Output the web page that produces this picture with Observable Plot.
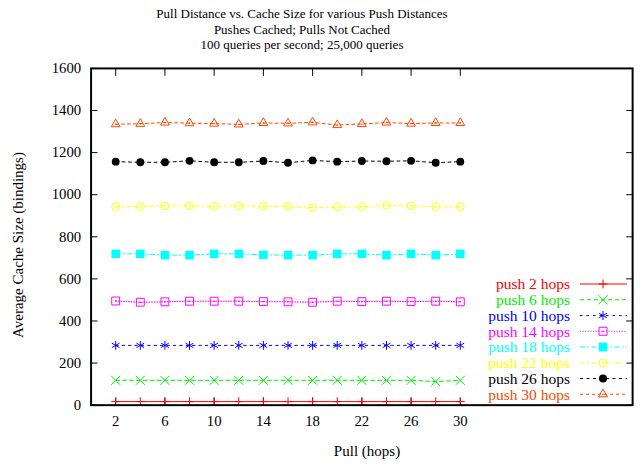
<!DOCTYPE html>
<html><head><meta charset="utf-8">
<script src="https://cdn.jsdelivr.net/npm/d3@7"></script>
<script src="https://cdn.jsdelivr.net/npm/@observablehq/plot@0.6"></script>
<style>
html,body{margin:0;padding:0;background:#fff;overflow:hidden;width:640px;height:468px}
#wrap{position:relative;width:640px;height:468px;overflow:hidden;font-family:"Liberation Serif","Times New Roman",serif;color:#000}
#title{position:absolute;left:0;top:6px;width:604px;text-align:center;font-size:13px;line-height:15.5px}
#chart{position:absolute;left:0;top:0}
#ylabel{position:absolute;left:18px;top:245px;transform:translate(-50%,-50%) rotate(-90deg);white-space:nowrap;font-size:15px}
#xlabel{position:absolute;left:367px;top:451px;transform:translate(-50%,-50%);white-space:nowrap;font-size:15px}
#legend{position:absolute;left:0;top:0;pointer-events:none}
</style></head>
<body>
<div id="wrap">
  <div id="chart"></div>
  <div id="title">Pull Distance vs. Cache Size for various Push Distances<br>Pushes Cached; Pulls Not Cached<br>100 queries per second; 25,000 queries</div>
  <div id="ylabel">Average Cache Size (bindings)</div>
  <div id="xlabel">Pull (hops)</div>
  <svg id="legend" width="640" height="468"></svg>
</div>
<script>
// ---- data ----
const pullHops = [2,4,6,8,10,12,14,16,18,20,22,24,26,28,30];
const xTicks = [2,6,10,14,18,22,26,30];
const yTicks = [0,200,400,600,800,1000,1200,1400,1600];
const seriesNames = ["push 2 hops","push 6 hops","push 10 hops","push 14 hops","push 18 hops","push 22 hops","push 26 hops","push 30 hops"];
const push2  = [17,17,17,17,17,17,17,17,17,17,17,17,17,17,17];
const push6  = [118,118,118,118,118,118,118,118,118,118,118,118,118,112,118];
const push10 = [284,284,284,284,284,284,284,284,284,284,284,284,284,284,284];
const push14 = [495,489,491,494,494,494,492,491,489,494,492,494,492,494,491];
const push18 = [719,719,713,713,719,719,714,713,713,719,719,713,719,713,719];
const push22 = [943,944,947,947,945,947,945,945,938,942,943,949,947,943,943];
const push26 = [1157,1154,1154,1161,1154,1154,1160,1152,1163,1157,1160,1159,1161,1152,1157];
const push30 = [1335,1337,1343,1340,1338,1334,1341,1339,1344,1331,1336,1343,1338,1341,1341];
const seriesValues = [push2,push6,push10,push14,push18,push22,push26,push30];

// ---- styles ----
const styles = [
  {color:"#ff0000", dash:null,        symbol:"plus",      r:3.0,  fill:false, dot:false},
  {color:"#00ee00", dash:"4,3",       symbol:"times",     r:4.2,  fill:false, dot:false},
  {color:"#0000ff", dash:"2.5,4",     symbol:"asterisk",  r:4.25, fill:false, dot:false},
  {color:"#ff00ff", dash:"1,1.6",     symbol:"square2",   r:5.1,  fill:false, dot:true},
  {color:"#00ffff", dash:"5,2.5,1.5,2.5", symbol:"square",r:4.9,  fill:true,  dot:false},
  {color:"#ffff00", dash:"4,3,1.5,3", symbol:"circle",    r:4.0,  fill:false, dot:true},
  {color:"#000000", dash:"3,3.5",     symbol:"circle",    r:4.0,  fill:true,  dot:false},
  {color:"#ff4500", dash:"3,3",       symbol:"triangle2", r:4.3,  fill:false, dot:true}
];

const rows = [];
seriesValues.forEach((vals, si) => vals.forEach((v, i) => rows.push({series: seriesNames[si], si, x: pullHops[i], y: v})));

const W = 650, H = 468, mL = 92, mR = 8, mT = 69, mB = 57;
const xDomain = [0, 44], yDomain = [0, 1600];
const blank = () => "";

const marks = [];
styles.forEach((s, si) => {
  const d = rows.filter(r => r.si === si);
  marks.push(Plot.line(d, {x:"x", y:"y", stroke:s.color, strokeWidth:1, strokeDasharray:s.dash}));
  marks.push(Plot.dot(d, {x:"x", y:"y", symbol:s.symbol, r:s.r,
    fill: s.fill ? s.color : "none", stroke: s.fill ? "none" : s.color, strokeWidth:1}));
  if (s.dot) marks.push(Plot.dot(d, {x:"x", y:"y", r:0.8, fill:s.color, stroke:"none"}));
});

const chart = Plot.plot({
  width: W, height: H,
  marginLeft: mL, marginRight: mR, marginTop: mT, marginBottom: mB,
  style: {fontFamily: '"Liberation Serif","Times New Roman",serif', fontSize: "15px", color: "#000", background: "transparent"},
  x: {domain: xDomain, label: null},
  y: {domain: yDomain, label: null},
  marks: [
    Plot.axisX({anchor:"bottom", ticks:xTicks, tickSize:0, tickPadding:11, tickFormat:d => String(d), label:null}),
    Plot.axisY({anchor:"left", ticks:yTicks, tickSize:0, tickPadding:10, tickFormat:d => String(d), label:null}),
    Plot.axisX({anchor:"bottom", ticks:xTicks, tickSize:-7, tickFormat:blank, label:null, strokeWidth:1}),
    Plot.axisX({anchor:"top", ticks:xTicks, tickSize:-7, tickFormat:blank, label:null, strokeWidth:1}),
    Plot.axisY({anchor:"left", ticks:yTicks, tickSize:-7, tickFormat:blank, label:null, strokeWidth:1}),
    Plot.axisY({anchor:"right", ticks:yTicks, tickSize:-7, tickFormat:blank, label:null, strokeWidth:1}),
    ...marks,
    Plot.frame({stroke:"#000", strokeWidth:2})
  ]
});
document.getElementById("chart").appendChild(chart);

// ---- legend ----
const symMap = {plus:d3.symbolPlus, times:d3.symbolTimes, asterisk:d3.symbolAsterisk, square2:d3.symbolSquare2,
  square:d3.symbolSquare, circle:d3.symbolCircle, triangle2:d3.symbolTriangle2};
const lg = d3.select("#legend");
const legX = 570, legY0 = 284, legDY = 15.75, lineX1 = 580, lineX2 = 627, symX = 603;
seriesNames.forEach((name, i) => {
  const s = styles[i];
  const y = legY0 + i * legDY;
  lg.append("text").attr("x", legX).attr("y", y).attr("dy", "0.35em").attr("text-anchor", "end")
    .attr("font-family", '"Liberation Serif","Times New Roman",serif').attr("font-size", 15.5)
    .attr("fill", s.color).text(name);
  lg.append("line").attr("x1", lineX1).attr("x2", lineX2).attr("y1", y).attr("y2", y)
    .attr("stroke", s.color).attr("stroke-width", 1).attr("stroke-dasharray", s.dash);
  lg.append("path").attr("transform", `translate(${symX},${y})`)
    .attr("d", d3.symbol(symMap[s.symbol], Math.PI * s.r * s.r)())
    .attr("fill", s.fill ? s.color : "none").attr("stroke", s.fill ? "none" : s.color).attr("stroke-width", 1);
  if (s.dot) lg.append("circle").attr("cx", symX).attr("cy", y).attr("r", 0.8).attr("fill", s.color);
});
</script>
</body></html>
